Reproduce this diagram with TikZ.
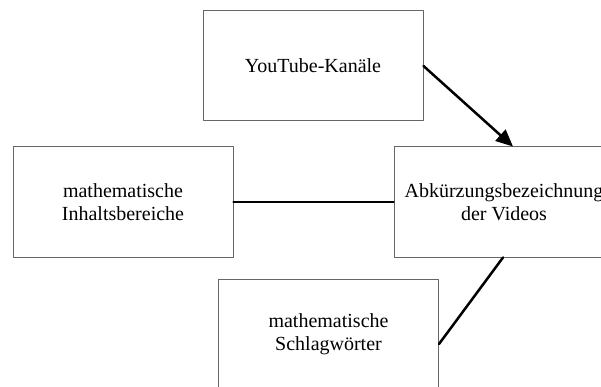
\documentclass[tikz,border=0pt]{standalone}
\usepackage{fontspec}
\setmainfont{Liberation Serif}
\usetikzlibrary{arrows.meta}
\begin{document}
\begin{tikzpicture}[line cap=round,line join=round,>={Triangle[length=17pt,width=15pt]},x=1pt,y=-1pt,
    kasten/.style={draw=black!60,line width=1pt,rectangle,minimum width=220pt,minimum height=110pt,
      align=center,inner sep=0pt,font=\fontsize{20}{23}\selectfont},
    verbindung/.style={color=black,line width=2.5pt}]
    \useasboundingbox (0,0) rectangle (601,387);
    \clip (0,0) rectangle (601,387);
    \node[kasten] (kanaele) at (313,66) {YouTube-Kanäle};
    \node[kasten] (inhalt) at (123,202) {mathematische\\Inhaltsbereiche};
    \node[kasten] (abk) at (504,202) {Abkürzungsbezeichnung\\der Videos};
    \node[kasten] (schlag) at (328.5,334) {mathematische\\Schlagwörter};
    \draw[verbindung,->] (kanaele.east) -- ([xshift=9pt]abk.north);
    \draw[verbindung] (inhalt.east) -- (abk.west);
    \draw[verbindung] ([yshift=-10pt]schlag.east) -- ([xshift=-1pt]abk.south);
\end{tikzpicture}
\end{document}
